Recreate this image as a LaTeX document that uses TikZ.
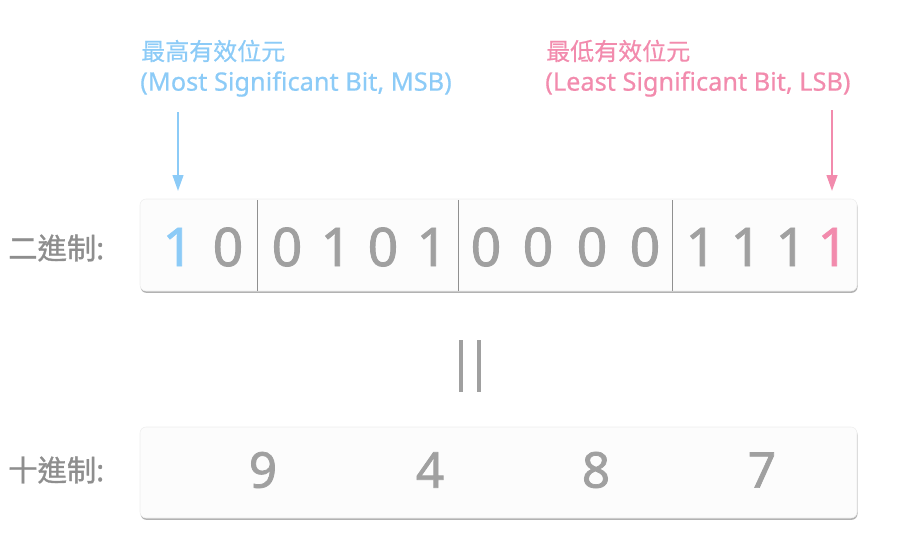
\documentclass[tikz,border=0pt]{standalone}
\usepackage{fontspec}
\setmainfont{Noto Sans}
\newfontfamily\cjk{Noto Sans CJK TC}
\newfontfamily\numfont[FakeBold=1.5]{Noto Sans}
\newfontfamily\labelfont[FakeBold=1.2]{Noto Sans}
\newfontfamily\cjklabel[FakeBold=1.2]{Noto Sans CJK TC}
\newfontfamily\notefont[FakeBold=0.6]{Noto Sans}
\newfontfamily\cjknote[FakeBold=0.6]{Noto Sans CJK TC}
\usetikzlibrary{arrows.meta,shadows}
\definecolor{msbblue}{HTML}{8CCBF7}
\definecolor{lsbpink}{HTML}{F28BAD}
\definecolor{digitgray}{HTML}{A0A0A0}
\definecolor{labelgray}{HTML}{8E8E8E}

\begin{document}
\begin{tikzpicture}[x=0.75pt,y=-0.75pt,
    every node/.style={inner sep=0pt},
    numbox/.style={draw=black!7,fill=black!1,rounded corners=4.5pt,
      minimum width=537.75pt,
      drop shadow={shadow xshift=0.4pt,shadow yshift=-1.4pt,opacity=0.55,fill=black!55}},
    bit/.style={font=\numfont\fontsize{40}{40}\selectfont,text=digitgray},
    dec/.style={font=\numfont\fontsize{37}{37}\selectfont,text=digitgray},
    rowlabel/.style={font=\labelfont\fontsize{22}{22}\selectfont,text=labelgray,anchor=west},
    note/.style={font=\notefont\fontsize{19}{19}\selectfont,anchor=west},
    notecjk/.style={font=\cjknote\fontsize{18}{18}\selectfont,anchor=west},
    divider/.style={draw=digitgray!90!black,line width=0.6pt},
    pointer/.style={line width=1.7pt,-{Triangle[width=8pt,length=12pt]}}]
  \useasboundingbox (0,0) rectangle (905,554);

  % boxes
  \node[numbox,minimum height=69pt] (binbox) at (498.5,245) {};
  \node[numbox,minimum height=68.25pt] (decbox) at (498.5,472.5) {};

  % row labels
  \node[rowlabel] (binlabel) at (8,248) {{\cjklabel 二進制}:};
  \node[rowlabel] (declabel) at (8,470) {{\cjklabel 十進制}:};

  % binary digits
  \node[bit,text=msbblue] (b1) at (178,247) {1};
  \node[bit] (b2) at (228,247) {0};
  \node[bit] (b3) at (287,247) {0};
  \node[bit] (b4) at (336,247) {1};
  \node[bit] (b5) at (383,247) {0};
  \node[bit] (b6) at (432,247) {1};
  \node[bit] (b7) at (486,247) {0};
  \node[bit] (b8) at (538,247) {0};
  \node[bit] (b9) at (592,247) {0};
  \node[bit] (b10) at (645,247) {0};
  \node[bit] (b11) at (701,247) {1};
  \node[bit] (b12) at (746,247) {1};
  \node[bit] (b13) at (791,247) {1};
  \node[bit,text=lsbpink] (b14) at (833,247) {1};
  \draw[divider] (257,200) -- (257,291);
  \draw[divider] (458,200) -- (458,291);
  \draw[divider] (672,200) -- (672,291);

  % decimal digits
  \node[dec] (d1) at (263,470) {9};
  \node[dec] (d2) at (430,470) {4};
  \node[dec] (d3) at (596,470) {8};
  \node[dec] (d4) at (762,470) {7};

  % equals
  \draw[digitgray,line width=2.4pt] (461,340) -- (461,392);
  \draw[digitgray,line width=2.4pt] (479,340) -- (479,392);

  % msb / lsb
  \node[notecjk,text=msbblue] (msbtitle) at (141,51) {最高有效位元};
  \node[note,text=msbblue] (msbsub) at (140,84) {(Most Significant Bit, MSB)};
  \node[notecjk,text=lsbpink] (lsbtitle) at (546,51) {最低有效位元};
  \node[note,text=lsbpink] (lsbsub) at (545,84) {(Least Significant Bit, LSB)};
  \coordinate (msbfrom) at (178,112);
  \coordinate (msbto) at (178,191);
  \coordinate (lsbfrom) at (832,110);
  \coordinate (lsbto) at (832,191);
  \draw[pointer,msbblue] (msbfrom) -- (msbto);
  \draw[pointer,lsbpink] (lsbfrom) -- (lsbto);
\end{tikzpicture}
\end{document}
